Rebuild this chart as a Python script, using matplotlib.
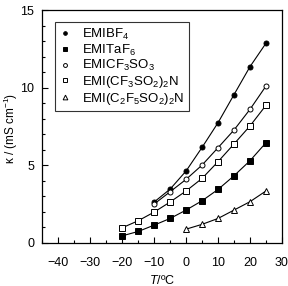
import matplotlib.pyplot as plt
from matplotlib.lines import Line2D
from matplotlib.ticker import MultipleLocator

plt.rcParams['font.family'] = ['Liberation Sans', 'DejaVu Sans']
plt.rcParams['mathtext.fontset'] = 'custom'
plt.rcParams['mathtext.rm'] = 'Liberation Sans'
plt.rcParams['mathtext.it'] = 'Liberation Sans:italic'

# conductivity data (T in degC, kappa in mS/cm)
t_bf4 = [-10, -5, 0, 5, 10, 15, 20, 25]
k_bf4 = [2.63, 3.46, 4.63, 6.15, 7.74, 9.55, 11.35, 12.86]

t_taf6 = [-20, -15, -10, -5, 0, 5, 10, 15, 20, 25]
k_taf6 = [0.45, 0.73, 1.14, 1.57, 2.11, 2.71, 3.44, 4.32, 5.29, 6.45]

t_cf3so3 = [-10, -5, 0, 5, 10, 15, 20, 25]
k_cf3so3 = [2.5, 3.29, 4.09, 5.01, 6.13, 7.27, 8.6, 10.1]

t_tfsi = [-20, -15, -10, -5, 0, 5, 10, 15, 20, 25]
k_tfsi = [0.97, 1.42, 1.98, 2.63, 3.34, 4.15, 5.23, 6.37, 7.53, 8.86]

t_beti = [0, 5, 10, 15, 20, 25]
k_beti = [0.88, 1.19, 1.57, 2.11, 2.65, 3.34]

labels = ['EMIBF$_4$', 'EMITaF$_6$', 'EMICF$_3$SO$_3$',
          'EMI(CF$_3$SO$_2$)$_2$N', 'EMI(C$_2$F$_5$SO$_2$)$_2$N']

fig = plt.figure(figsize=(2.88, 2.86), dpi=100)
ax = fig.add_axes([0.147, 0.151, 0.832, 0.814])

series = [
    (t_bf4, k_bf4, dict(marker='o', mfc='black'), 3.6, 2.6),
    (t_taf6, k_taf6, dict(marker='s', mfc='black'), 4.2, 3.0),
    (t_cf3so3, k_cf3so3, dict(marker='o', mfc='white'), 3.6, 2.8),
    (t_tfsi, k_tfsi, dict(marker='s', mfc='white'), 4.6, 3.2),
    (t_beti, k_beti, dict(marker='^', mfc='white'), 4.6, 3.4),
]

handles = []
for (t, k, st, ms, ms_leg), lab in zip(series, labels):
    ax.plot(t, k, color='black', lw=0.8, mec='black', mew=0.7, ms=ms, **st)
    handles.append(Line2D([], [], ls='none', color='black', mec='black',
                          mew=0.7, ms=ms_leg, label=lab, **st))

ax.set_xlim(-45, 30)
ax.set_ylim(0, 15)
ax.xaxis.set_major_locator(MultipleLocator(10))
ax.xaxis.set_minor_locator(MultipleLocator(5))
ax.yaxis.set_major_locator(MultipleLocator(5))
ax.yaxis.set_minor_locator(MultipleLocator(1))
ax.tick_params(which='both', direction='in', top=False, right=False,
               labelsize=9, width=0.8)
ax.tick_params(which='major', length=4)
ax.tick_params(which='minor', length=2)
ax.tick_params(axis='x', which='major', pad=10)
ax.tick_params(axis='y', which='major', pad=6)
for s in ax.spines.values():
    s.set_linewidth(0.9)

ax.set_xlabel('$\\mathit{T}$/ºC', fontsize=9, labelpad=4)
ax.set_ylabel('κ / (mS cm$^{-1}$)', fontsize=8.5)
ax.yaxis.set_label_coords(-0.093, 0.49)

leg = ax.legend(handles=handles, loc='upper left', fontsize=9.5,
                bbox_to_anchor=(0.053, 0.948), frameon=True, fancybox=False,
                handlelength=0.8, handletextpad=0.9, labelspacing=0.05,
                borderpad=0.35, borderaxespad=0.0)
leg.get_frame().set_edgecolor('black')
leg.get_frame().set_linewidth(0.8)

fig.savefig('out.png', dpi=100)
